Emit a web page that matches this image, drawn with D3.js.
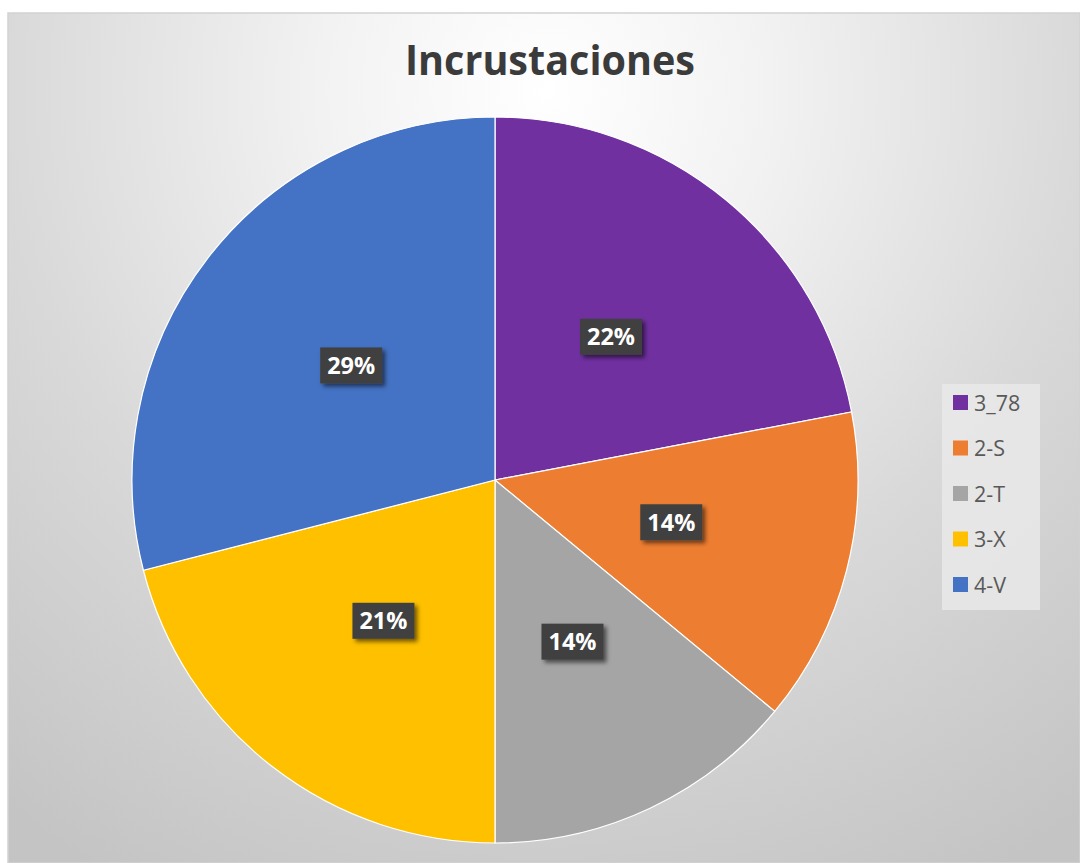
<!DOCTYPE html>
<html>
<head>
<meta charset="utf-8">
<script src="https://cdn.jsdelivr.net/npm/d3@7"></script>
<style>
  html, body { margin: 0; padding: 0; background: #ffffff; }
  svg { display: block; }
</style>
</head>
<body>
<script>
// Share of incrustations by type
const categories = ["3_78", "2-S", "2-T", "3-X", "4-V"];
const values = [22, 14, 14, 21, 29];
const colors = ["#7030A0", "#ED7D31", "#A5A5A5", "#FFC000", "#4472C4"];
const title = "Incrustaciones";

const W = 1080, H = 863;
const svg = d3.select("body").append("svg").attr("width", W).attr("height", H);
const defs = svg.append("defs");

// Soft radial background of the chart area
const grad = defs.append("radialGradient").attr("id", "bg")
  .attr("gradientUnits", "userSpaceOnUse")
  .attr("cx", 545).attr("cy", 90).attr("r", 900);
grad.append("stop").attr("offset", "0%").attr("stop-color", "#ffffff");
grad.append("stop").attr("offset", "25%").attr("stop-color", "#f2f2f2");
grad.append("stop").attr("offset", "60%").attr("stop-color", "#d9d9d9");
grad.append("stop").attr("offset", "100%").attr("stop-color", "#c4c4c4");

const shadow = defs.append("filter").attr("id", "lblShadow")
  .attr("x", "-30%").attr("y", "-30%").attr("width", "160%").attr("height", "170%");
shadow.append("feDropShadow").attr("dx", 3).attr("dy", 3).attr("stdDeviation", 2)
  .attr("flood-color", "#000").attr("flood-opacity", 0.55);

svg.append("rect").attr("x", 8).attr("y", 13).attr("width", W - 8).attr("height", H - 13)
  .attr("fill", "url(#bg)").attr("stroke", "#d2d2d2").attr("stroke-width", 1.5);

// Title
svg.append("text").attr("x", 550).attr("y", 75)
  .attr("text-anchor", "middle")
  .attr("font-family", "'Open Sans', sans-serif").attr("font-weight", 700)
  .attr("font-size", 42).attr("fill", "#3b3b3b")
  .attr("textLength", 290).attr("lengthAdjust", "spacingAndGlyphs")
  .text(title);

// Pie
const cx = 495, cy = 480, r = 363;
const pie = d3.pie().sort(null).value(d => d.v);
const arcs = pie(values.map((v, i) => ({ v, name: categories[i], color: colors[i] })));
const arc = d3.arc().innerRadius(0).outerRadius(r);
const labelArc = d3.arc().innerRadius(182).outerRadius(182);

const g = svg.append("g").attr("transform", `translate(${cx},${cy})`);
g.selectAll("path.slice").data(arcs).join("path")
  .attr("class", "slice")
  .attr("d", arc)
  .attr("fill", d => d.data.color)
  .attr("stroke", "#ffffff").attr("stroke-width", 1.2);

// Percentage labels on dark boxes
const lbl = g.selectAll("g.lbl").data(arcs).join("g")
  .attr("class", "lbl")
  .attr("transform", d => { const c = labelArc.centroid(d); return `translate(${c[0]},${c[1] - 3})`; });
lbl.append("rect").attr("x", -31).attr("y", -18).attr("width", 62).attr("height", 36)
  .attr("fill", "#404040").attr("filter", "url(#lblShadow)");
lbl.append("text").attr("text-anchor", "middle").attr("y", 8.5)
  .attr("font-family", "'Open Sans', sans-serif").attr("font-weight", 700)
  .attr("font-size", 23.5).attr("fill", "#ffffff")
  .text(d => d.data.v + "%");

// Legend
const lg = svg.append("g");
lg.append("rect").attr("x", 942).attr("y", 384).attr("width", 98).attr("height", 226)
  .attr("fill", "#e9e9e9").attr("opacity", 0.85);
const item = lg.selectAll("g.item").data(arcs).join("g")
  .attr("class", "item")
  .attr("transform", (d, i) => `translate(953,${403 + i * 45.5})`);
item.append("rect").attr("x", 0).attr("y", -8).attr("width", 15).attr("height", 15)
  .attr("fill", d => d.data.color);
item.append("text").attr("x", 21).attr("y", 7.5)
  .attr("font-family", "'Open Sans', sans-serif").attr("font-size", 21.5)
  .attr("fill", "#595959")
  .text(d => d.data.name);
</script>
</body>
</html>
